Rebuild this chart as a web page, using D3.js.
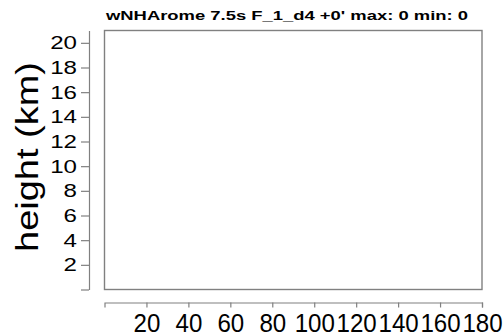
<!DOCTYPE html>
<html>
<head>
<meta charset="utf-8">
<script src="https://cdn.jsdelivr.net/npm/d3@7"></script>
<style>
  html, body { margin: 0; padding: 0; background: #fff; }
  svg { display: block; font-family: "Liberation Sans", Arial, Helvetica, sans-serif; }
</style>
</head>
<body>
<svg id="chart" width="503" height="334"></svg>
<script>
// Run description
const modelName = "wNHArome";
const timeStep = "7.5s";
const fieldName = "F_1_d4";
const leadTime = "+0'";
const fieldMax = 0;
const fieldMin = 0;

// Axis extents and ticks
const distanceDomain = [0, 180];
const distanceTicks = [20, 40, 60, 80, 100, 120, 140, 160, 180];
const heightDomain = [0, 21];
const heightTicks = [0, 2, 4, 6, 8, 10, 12, 14, 16, 18, 20];
const heightLabel = "height (km)";

// Cross-section field samples (all zero for this time step: nothing to contour)
const fieldValues = [];

const svg = d3.select("#chart");
const axisColor = "#808080";
const digitWidth = 13.4;

const plot = { left: 104.5, right: 482, top: 30.5, bottom: 289.5 };

const x = d3.scaleLinear().domain(distanceDomain).range([plot.left, plot.right]);
const y = d3.scaleLinear().domain(heightDomain).range([plot.bottom, plot.top]);

// Title
svg.append("text")
  .attr("x", 106)
  .attr("y", 19.5)
  .attr("font-size", 13)
  .attr("font-weight", "bold")
  .attr("textLength", 362)
  .attr("lengthAdjust", "spacingAndGlyphs")
  .text(`${modelName} ${timeStep} ${fieldName} ${leadTime} max: ${fieldMax} min: ${fieldMin}`);

// Plot frame
svg.append("rect")
  .attr("x", plot.left)
  .attr("y", plot.top)
  .attr("width", plot.right - plot.left)
  .attr("height", plot.bottom - plot.top)
  .attr("fill", "none")
  .attr("stroke", axisColor)
  .attr("stroke-width", 1.4);

// Field contours (none when the field is flat)
svg.append("g").selectAll("path")
  .data(fieldValues)
  .join("path");

// Height axis, offset to the left of the frame
const yAxis = svg.append("g")
  .attr("transform", "translate(89,0)")
  .call(d3.axisLeft(y)
    .tickValues(heightTicks)
    .tickFormat(d => d === 0 ? "" : d)
    .tickSize(8)
    .tickSizeOuter(0)
    .tickPadding(4));

// Distance axis, offset below the frame
const xAxis = svg.append("g")
  .attr("transform", "translate(0,302.5)")
  .call(d3.axisBottom(x)
    .tickValues(distanceTicks)
    .tickSize(5)
    .tickSizeOuter(5)
    .tickPadding(4));

function styleAxis(g, fontSize) {
  g.select(".domain").attr("stroke", axisColor).attr("stroke-width", 1.2);
  g.selectAll(".tick line").attr("stroke", axisColor).attr("stroke-width", 1.2);
  g.selectAll(".tick text")
    .attr("fill", "#000")
    .attr("font-size", fontSize)
    .attr("font-family", "\"Liberation Sans\", Arial, Helvetica, sans-serif")
    .each(function() {
      const s = d3.select(this).text();
      if (s.length) {
        d3.select(this)
          .attr("textLength", s.length * digitWidth)
          .attr("lengthAdjust", "spacingAndGlyphs");
      }
    });
}

styleAxis(yAxis, 18.5);
styleAxis(xAxis, 26);

xAxis.selectAll(".tick text").attr("y", 29.5).attr("dy", 0);

// Height axis title
svg.append("text")
  .attr("transform", "translate(37.5,157) rotate(-90)")
  .attr("text-anchor", "middle")
  .attr("font-size", 30.5)
  .attr("textLength", 190)
  .attr("lengthAdjust", "spacingAndGlyphs")
  .text(heightLabel);
</script>
</body>
</html>
